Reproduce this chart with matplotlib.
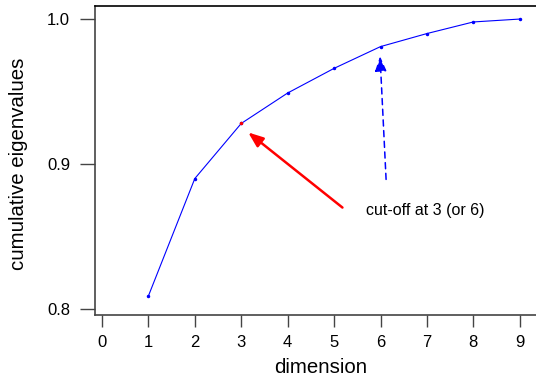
import matplotlib.pyplot as plt

plt.rcParams['font.family'] = ['Liberation Sans', 'DejaVu Sans']

dims = [1, 2, 3, 4, 5, 6, 7, 8, 9]
cum_eig = [0.809, 0.890, 0.928, 0.949, 0.966, 0.981, 0.990, 0.998, 1.000]
cutoff = 3
alt_cutoff = 6
xticks = list(range(10))
yticks = [0.8, 0.9, 1.0]

fig = plt.figure(figsize=(5.36, 3.83), dpi=100)
ax = fig.add_axes([95 / 536, 68 / 383, 1.02 - 95 / 536, (383 - 6 - 68) / 383])

ax.plot(dims, cum_eig, color="blue", lw=0.8, marker="o", ms=1.5)
ax.plot(dims[cutoff - 1], cum_eig[cutoff - 1], "o", color="red", ms=1.5)

ax.annotate("", xy=(3.15, 0.9218), xytext=(5.18, 0.870),
            arrowprops=dict(arrowstyle="-|>,head_length=0.9,head_width=0.35",
                            color="red", lw=1.8, shrinkA=0, shrinkB=0))
ax.annotate("", xy=(5.99, 0.9743), xytext=(6.12, 0.8894),
            arrowprops=dict(arrowstyle="-|>,head_length=0.9,head_width=0.35",
                            color="blue", lw=1.1, ls=(0, (4, 3)),
                            shrinkA=0, shrinkB=0))
ax.text(5.69, 0.868, "cut-off at 3 (or 6)", fontsize=11.5, va="center", ha="left")

ax.set_xlim(-0.15, 9.58)
ax.set_ylim(0.7959, 1.009)
ax.set_xticks(xticks)
ax.set_yticks(yticks)
ax.set_yticklabels([f"{v:.1f}" for v in yticks])
ax.tick_params(axis="y", direction="out", length=11, width=1, color="#444444",
               labelsize=12, pad=7)
ax.tick_params(axis="x", direction="out", length=8.5, width=1, color="#444444",
               labelsize=12, pad=6)
for s in ["left", "bottom"]:
    ax.spines[s].set_color("#444444")
    ax.spines[s].set_linewidth(1.2)
ax.spines["top"].set_linewidth(1.2)
ax.spines["right"].set_visible(False)

ax.set_xlabel("dimension", fontsize=14.7, labelpad=6)
ax.set_ylabel("cumulative eigenvalues", fontsize=14.7, labelpad=8)
ax.yaxis.set_label_coords(-0.148, (383 - 163.5 - 68) / (383 - 6 - 68))

fig.savefig("out.png", dpi=100)
